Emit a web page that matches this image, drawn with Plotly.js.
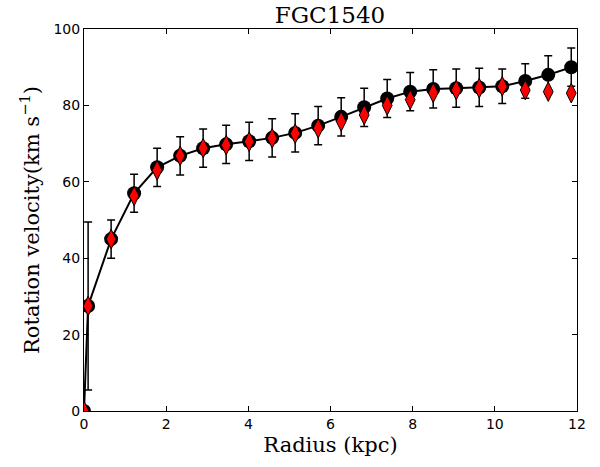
<!DOCTYPE html>
<html><head><meta charset="utf-8">
<script src="https://cdn.plot.ly/plotly-3.0.1.min.js"></script>
<style>html,body{margin:0;padding:0;background:#fff}</style>
</head><body><div id="chart" style="width:600px;height:467px"></div>
<script>
const radius = [0, 0.1, 0.66, 1.22, 1.78, 2.34, 2.9, 3.46, 4.02, 4.58, 5.14, 5.7, 6.26, 6.82, 7.38, 7.94, 8.5, 9.06, 9.62, 10.18, 10.74, 11.3, 11.86];
const vObs = [0, 27.5, 45, 57, 63.8, 66.8, 68.8, 69.8, 70.6, 71.5, 72.8, 74.7, 77, 79.5, 81.8, 83.6, 84.3, 84.5, 84.7, 85, 86.4, 88, 90];
const vErr = [0, 22, 5, 5, 5, 5, 5, 5, 5, 5, 5, 5, 5, 5, 5, 5, 5, 5, 5, 4.5, 4.5, 5, 5];
const vModel = [0, 27.5, 45, 56.3, 63, 66.8, 68.8, 69.6, 70.5, 71.4, 72.6, 74, 75.8, 77.5, 80, 81.5, 83.3, 84, 84.5, 85, 84, 83.6, 83.2];

const serif = 'DejaVu Serif';
const sans = 'DejaVu Sans';

const traces = [
  {x: radius, y: vObs, type: 'scatter', mode: 'lines+markers',
   line: {color: 'black', width: 2},
   marker: {symbol: 'circle', size: 14, color: 'black'},
   error_y: {type: 'data', array: vErr, visible: true, color: 'black', thickness: 1.5, width: 4},
   showlegend: false, hoverinfo: 'skip'},
  {x: radius, y: vModel, type: 'scatter', mode: 'markers',
   marker: {symbol: 'diamond-tall', size: 14, color: 'red', line: {color: 'black', width: 1}},
   showlegend: false, hoverinfo: 'skip'}
];

const layout = {
  width: 600, height: 467,
  margin: {l: 84, r: 23, t: 29, b: 56},
  paper_bgcolor: 'white', plot_bgcolor: 'white',
  font: {family: serif, size: 21, color: 'black'},
  title: {text: 'FGC1540', font: {family: serif, size: 23, color: 'black'}, x: 0.55, xanchor: 'center', y: 0.985, yanchor: 'top'},
  xaxis: {range: [0, 12], dtick: 2, showgrid: false, zeroline: false, showline: true, mirror: 'ticks',
    linecolor: 'black', linewidth: 1, ticks: 'inside', ticklen: 5, tickcolor: 'black',
    tickfont: {family: sans, size: 14, color: 'black'},
    title: {text: 'Radius (kpc)', font: {family: serif, size: 21, color: 'black'}, standoff: 6}},
  yaxis: {range: [0, 100], dtick: 20, showgrid: false, zeroline: false, showline: true, mirror: 'ticks',
    linecolor: 'black', linewidth: 1, ticks: 'inside', ticklen: 5, tickcolor: 'black',
    tickfont: {family: sans, size: 14, color: 'black'},
    title: {text: 'Rotation velocity(km s<sup>\u22121</sup>)', font: {family: serif, size: 21, color: 'black'}, standoff: 8}}
};
Plotly.newPlot('chart', traces, layout, {staticPlot: true});
</script></body></html>
